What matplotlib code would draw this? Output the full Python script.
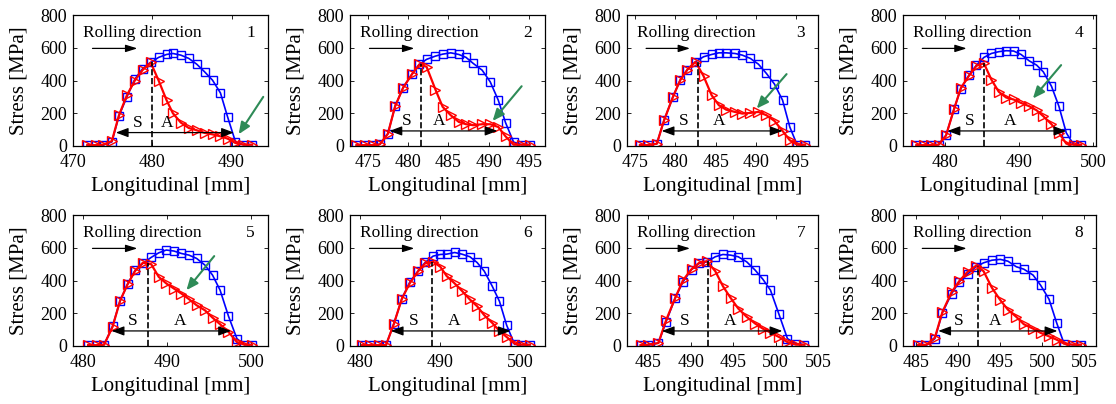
import numpy as np
import matplotlib.pyplot as plt

plt.rcParams['font.family'] = ['Liberation Serif', 'DejaVu Serif']

# positions along the strip [mm] and stress [MPa] for each of the 8 cases
x1 = [471.8, 472.9, 473.8, 474.9, 475.8, 476.8, 477.8, 478.8, 479.8, 480.8, 481.8,
      482.6, 483.6, 484.6, 485.6, 486.6, 487.6, 488.6, 489.5, 490.5, 491.5, 492.6]
blue1 = [5, 5, 5, 25, 184, 300, 408, 473, 510, 541, 559, 565, 555, 535, 500, 453, 402, 324, 178, 25, 8, 8]
red1 = [5, 5, 8, 30, 188, 310, 400, 465, 510, 400, 280, 200, 143, 110, 96, 80, 71, 59, 45, 18, 8, 8]

x2 = [473.6, 474.7, 475.7, 476.5, 477.5, 478.4, 479.4, 480.5, 481.4, 482.3, 483.4, 484.3,
      485.3, 486.3, 487.2, 488.1, 489.2, 490.2, 491.2, 492.1, 493.1, 494.1, 495.1]
blue2 = [5, 5, 5, 10, 75, 243, 357, 439, 498, 529, 549, 561, 569, 559, 541, 504, 463, 392, 280, 143, 24, 8, 8]
red2 = [5, 5, 5, 10, 75, 243, 357, 439, 498, 484, 345, 239, 188, 147, 133, 127, 133, 133, 116, 59, 8, 8, 8]

x3 = [475.6, 476.6, 477.7, 478.6, 479.7, 480.6, 481.5, 482.5, 483.5, 484.5, 485.4,
      486.3, 487.4, 488.3, 489.3, 490.3, 491.3, 492.3, 493.3, 494.2, 495.1, 496.1]
blue3 = [5, 5, 14, 157, 300, 402, 467, 514, 545, 559, 569, 569, 565, 555, 535, 500, 443, 378, 280, 116, 8, 8]
red3 = [5, 5, 14, 157, 300, 402, 467, 514, 427, 310, 249, 222, 208, 198, 202, 208, 188, 153, 92, 35, 8, 8]

x4 = [476.2, 477.2, 478.2, 479.2, 480.2, 481.3, 482.2, 483.3, 484.3, 485.3, 486.3, 487.3,
      488.3, 489.3, 490.3, 491.4, 492.4, 493.3, 494.4, 495.4, 496.4, 497.4, 498.4]
blue4 = [5, 5, 5, 8, 65, 229, 351, 433, 494, 541, 565, 576, 582, 580, 559, 520, 494, 453, 365, 243, 80, 8, 8]
red4 = [5, 5, 5, 8, 65, 229, 355, 430, 490, 505, 406, 331, 296, 284, 263, 243, 218, 182, 133, 80, 14, 8, 8]

x5 = [480.6, 481.6, 482.5, 483.5, 484.4, 485.3, 486.2, 487.1, 488.1, 489.0, 489.9,
      490.8, 491.7, 492.6, 493.5, 494.5, 495.4, 496.3, 497.3, 498.3, 499.2, 500.1]
blue5 = [5, 5, 8, 120, 276, 378, 463, 504, 541, 569, 586, 580, 565, 555, 535, 494, 433, 341, 182, 45, 8, 8]
red5 = [5, 5, 8, 116, 276, 378, 459, 508, 500, 422, 382, 351, 320, 286, 249, 218, 173, 133, 86, 24, 8, 8]

x6 = [480.2, 481.2, 482.3, 483.2, 484.2, 485.2, 486.2, 487.2, 488.1, 489.1, 490.0, 490.8,
      491.8, 492.7, 493.7, 494.6, 495.5, 496.5, 497.4, 498.3, 499.3, 500.2, 501.2]
blue6 = [5, 5, 5, 5, 137, 290, 392, 457, 510, 549, 559, 561, 571, 561, 545, 510, 457, 365, 273, 127, 10, 8, 8]
red6 = [5, 5, 5, 5, 137, 290, 385, 455, 505, 514, 484, 427, 382, 337, 284, 243, 188, 141, 92, 55, 14, 8, 8]

x7 = [484.1, 485.0, 486.2, 487.1, 488.2, 489.1, 490.1, 491.0, 491.9, 492.9, 493.8,
      494.7, 495.6, 496.6, 497.6, 498.5, 499.4, 500.4, 501.4, 502.4, 503.4]
blue7 = [5, 5, 18, 147, 296, 392, 467, 504, 514, 545, 559, 555, 545, 514, 463, 408, 341, 194, 45, 14, 8]
red7 = [5, 8, 18, 157, 296, 402, 469, 508, 518, 457, 365, 294, 229, 178, 137, 106, 82, 55, 24, 8, 8]

x8 = [485.2, 486.2, 487.2, 488.1, 489.2, 490.1, 491.1, 492.1, 493.0, 494.0, 495.0,
      495.9, 496.9, 497.8, 498.9, 499.8, 500.8, 501.7, 502.6, 503.6, 504.6]
blue8 = [5, 5, 45, 204, 320, 392, 439, 484, 508, 524, 529, 518, 484, 469, 433, 371, 286, 143, 14, 8, 8]
red8 = [5, 8, 51, 208, 330, 396, 453, 490, 457, 355, 280, 222, 178, 133, 106, 80, 59, 39, 14, 8, 8]

# split between S and A zones, and the S/A arrow ends
split_x = [480.0, 481.6, 482.8, 485.3, 487.7, 489.0, 492.0, 492.3]
arrow_l = [475.4, 477.7, 478.3, 480.4, 483.4, 483.8, 486.6, 487.6]
arrow_r = [490.3, 491.1, 493.3, 496.4, 497.6, 498.8, 500.8, 501.8]
arrow_y = [82, 92, 92, 92, 92, 92, 92, 92]
s_x = [478.2, 479.9, 481.0, 483.4, 485.9, 486.7, 489.3, 490.1]
a_x = [481.9, 483.9, 485.4, 488.8, 491.5, 491.7, 494.6, 494.4]

# green pointer arrows (panels 1-5): tail x, tail y, head x, head y
green = [(494.0, 300, 490.9, 72), (494.1, 365, 490.5, 153), (493.8, 439, 490.1, 229),
         (495.7, 494, 491.9, 290), (495.6, 549, 492.3, 341), None, None, None]

xlims = [(470, 494.6), (472.8, 497), (474, 497.7), (474.4, 500.4),
         (478.8, 502), (478.7, 503.1), (482.5, 505), (483.4, 506.4)]
xticks = [[470, 480, 490], [475, 480, 485, 490, 495], [475, 480, 485, 490, 495],
          [480, 490, 500], [480, 490, 500], [480, 490, 500],
          [485, 490, 495, 500, 505], [485, 490, 495, 500, 505]]

xs = [x1, x2, x3, x4, x5, x6, x7, x8]
blues = [blue1, blue2, blue3, blue4, blue5, blue6, blue7, blue8]
reds = [red1, red2, red3, red4, red5, red6, red7, red8]

fig = plt.figure(figsize=(11.16, 4.04), dpi=100)
W, H = 1116, 404
lefts = [73, 350, 627, 903]
widths = [195, 195, 191, 193]
tops = [15, 215]
ah = 131

for i in range(8):
    row, col = divmod(i, 4)
    ax = fig.add_axes([lefts[col] / W, (H - tops[row] - ah) / H, widths[col] / W, ah / H])

    ax.plot(xs[i], blues[i], '-s', color='blue', lw=1.2, ms=6, mfc='none', mew=1.0)
    ax.plot(xs[i], reds[i], '->', color='red', lw=1.6, ms=7, mfc='none', mew=1.0)

    ax.plot([split_x[i], split_x[i]], [0, max(reds[i])], '--', color='black', lw=1.2)

    ax.annotate('', xy=(arrow_l[i], arrow_y[i]), xytext=(arrow_r[i], arrow_y[i]),
                arrowprops=dict(arrowstyle='<|-|>,head_length=0.75,head_width=0.28',
                                color='black', lw=0.9, shrinkA=0, shrinkB=0))
    ax.text(s_x[i], arrow_y[i] + 12, 'S', fontsize=12.5, ha='center', va='bottom')
    ax.text(a_x[i], arrow_y[i] + 12, 'A', fontsize=12.5, ha='center', va='bottom')

    ax.text(0.05, 0.865, 'Rolling direction', transform=ax.transAxes,
            fontsize=12.5, ha='left', va='center')
    ax.annotate('', xy=(0.33, 0.745), xytext=(0.1, 0.745), xycoords='axes fraction',
                arrowprops=dict(arrowstyle='-|>,head_length=0.7,head_width=0.22',
                                color='black', lw=0.9, shrinkA=0, shrinkB=0))
    ax.text(0.91, 0.865, str(i + 1), transform=ax.transAxes,
            fontsize=12.5, ha='center', va='center')

    if green[i] is not None:
        gx0, gy0, gx1, gy1 = green[i]
        ax.annotate('', xy=(gx1, gy1), xytext=(gx0, gy0),
                    arrowprops=dict(arrowstyle='-|>,head_length=0.7,head_width=0.3',
                                    color='#2e8b57', lw=1.5, shrinkA=0, shrinkB=0))

    ax.set_xlim(*xlims[i])
    ax.set_ylim(0, 800)
    ax.set_xticks(xticks[i])
    ax.set_yticks([0, 200, 400, 600, 800])
    ax.tick_params(direction='in', length=3, width=0.6, labelsize=13,
                   top=True, right=True)
    ax.tick_params(axis='x', pad=6)
    ax.tick_params(axis='y', pad=4)
    for sp in ax.spines.values():
        sp.set_linewidth(0.9)
    ax.set_xlabel('Longitudinal [mm]', fontsize=15, labelpad=4)
    ax.set_ylabel('Stress [MPa]', fontsize=15, labelpad=9)

fig.savefig('out.png', dpi=100)
